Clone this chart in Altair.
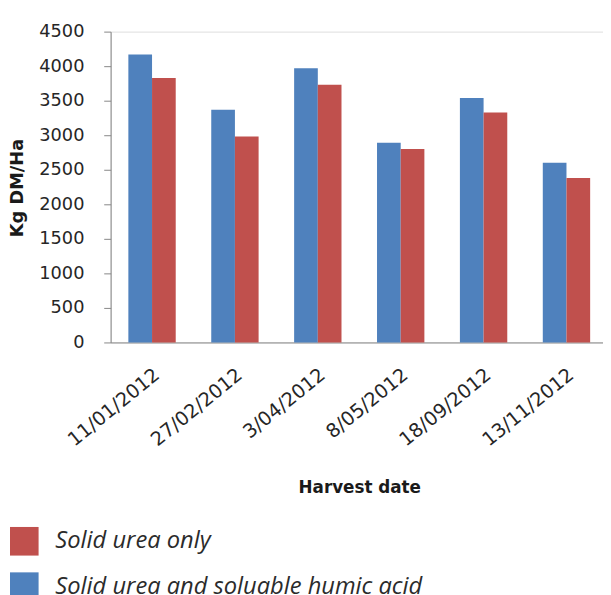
import altair as alt
import pandas as pd

# Data
dates = ["11/01/2012", "27/02/2012", "3/04/2012", "8/05/2012", "18/09/2012", "13/11/2012"]
humic = [4170, 3370, 3970, 2890, 3540, 2600]   # Solid urea and soluable humic acid
urea = [3830, 2980, 3730, 2800, 3330, 2380]    # Solid urea only
series = ["Solid urea only", "Solid urea and soluable humic acid"]
colors = ["#C0504D", "#4F81BD"]
y_ticks = [0, 500, 1000, 1500, 2000, 2500, 3000, 3500, 4000, 4500]

rows = []
for d, h, u in zip(dates, humic, urea):
    rows.append({"date": d, "series": series[1], "value": h})
    rows.append({"date": d, "series": series[0], "value": u})
df = pd.DataFrame(rows)

axis_gray = "#868686"
text_col = "#262626"

chart = alt.Chart(df).mark_bar().encode(
    x=alt.X(
        "date:N",
        sort=dates,
        scale=alt.Scale(paddingInner=0.4286, paddingOuter=0.1845, align=0.58),
        axis=alt.Axis(
            title="Harvest date",
            labelAngle=321,
            labelAlign="right",
            labelBaseline="middle",
            labelPadding=30,
            labelOffset=5,
            ticks=False,
            domainColor=axis_gray,
            domainWidth=1,
            labelFont="DejaVu Sans",
            labelFontSize=19.5,
            labelColor=text_col,
            titleFont="DejaVu Sans",
            titleFontSize=17,
            titleFontWeight="bold",
            titleColor="#1a1a1a",
            titleX=252,
            titleY=152,
            titleBaseline="alphabetic",
            titleAlign="center",
        ),
    ),
    xOffset=alt.XOffset(
        "series:N",
        sort=[series[1], series[0]],
        scale=alt.Scale(paddingInner=0, paddingOuter=0),
    ),
    y=alt.Y(
        "value:Q",
        scale=alt.Scale(domain=[0, 4500], nice=False),
        axis=alt.Axis(
            values=y_ticks,
            format="d",
            title="Kg DM/Ha",
            grid=False,
            tickSize=7,
            tickColor=axis_gray,
            domainColor=axis_gray,
            labelPadding=20,
            labelFont="DejaVu Sans",
            labelFontSize=18,
            labelColor=text_col,
            titleFont="DejaVu Sans",
            titleFontSize=18,
            titleFontWeight="bold",
            titleColor="#1a1a1a",
            titleAngle=270,
            titleX=-89,
            titleY=158,
            titleBaseline="alphabetic",
            titleAlign="center",
        ),
    ),
    color=alt.Color(
        "series:N",
        scale=alt.Scale(domain=series, range=colors),
        legend=alt.Legend(
            title=None,
            orient="none",
            legendX=-102,
            legendY=502,
            direction="vertical",
            symbolType="square",
            symbolSize=841,
            symbolStrokeWidth=0,
            symbolOpacity=1,
            labelFont="Open Sans",
            labelFontStyle="italic",
            labelFontSize=24,
            labelColor="#2b2b2b",
            labelOffset=17,
            labelLimit=700,
            rowPadding=17,
            padding=0,
        ),
    ),
).properties(
    width=499,
    height=315,
    autosize=alt.AutoSizeParams(type="none"),
    padding={"left": 104, "top": 20, "right": 0, "bottom": 252},
).configure_view(stroke=None).configure(background="white")

chart.save("out.html", embed_options={"renderer": "svg", "actions": False})
